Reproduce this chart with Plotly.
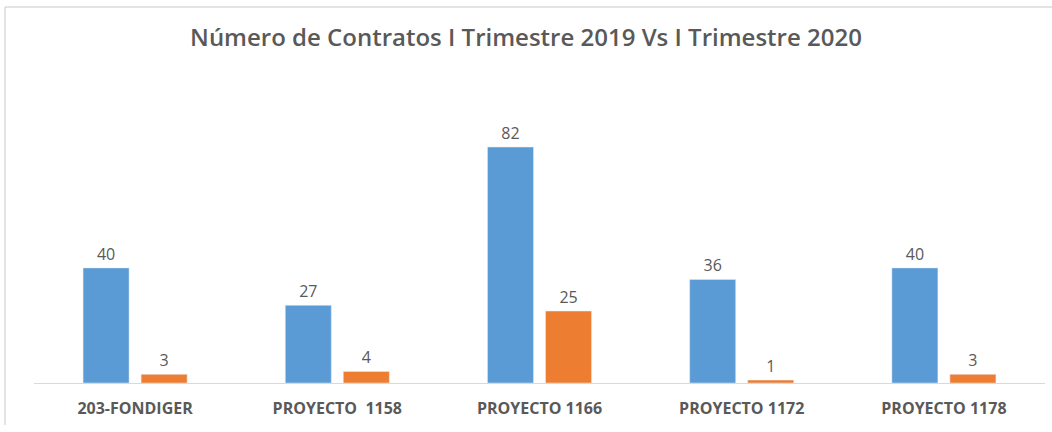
import plotly.graph_objects as go

categories = ["203-FONDIGER", "PROYECTO  1158", "PROYECTO 1166", "PROYECTO 1172", "PROYECTO 1178"]
series_2019 = [40, 27, 82, 36, 40]
series_2020 = [3, 4, 25, 1, 3]
series_names = ["I Trimestre 2019", "I Trimestre 2020"]

label_font = dict(family="Open Sans", size=16, color="#595959")

fig = go.Figure()
fig.add_trace(go.Bar(x=categories, y=series_2019, name=series_names[0],
                     marker_color="#5B9BD5", text=series_2019, textposition="outside",
                     textfont=label_font, cliponaxis=False))
fig.add_trace(go.Bar(x=categories, y=series_2020, name=series_names[1],
                     marker_color="#ED7D31", text=series_2020, textposition="outside",
                     textfont=label_font, cliponaxis=False))

L, R, T, B = 34, 7, 100, 49
W, H = 1052, 432
pw, ph = W - L - R, H - T - B

def px_x(x):
    return (x - L) / pw

def px_y(y):
    return (H - B - y) / ph

fig.update_layout(
    width=W, height=H,
    margin=dict(l=L, r=R, t=T, b=B),
    paper_bgcolor="white", plot_bgcolor="white",
    barmode="group", bargap=0.426, bargroupgap=0.207,
    showlegend=False,
    title=dict(text="Número de Contratos I Trimestre 2019 Vs I Trimestre 2020",
               x=0.5, xanchor="center", y=1 - 38 / H, yanchor="middle",
               font=dict(family="Open Sans", size=24, color="#595959", weight=600)),
    xaxis=dict(showline=True, linecolor="#D9D9D9", linewidth=1, ticks="",
               tickfont=dict(family="Open Sans", size=16, color="#595959", weight="bold"),
               ticklabelstandoff=11, showgrid=False),
    yaxis=dict(range=[0, ph / (236 / 82)], visible=False, showgrid=False),
    shapes=[
        dict(type="line", xref="paper", yref="paper", x0=px_x(5), x1=px_x(W), y0=px_y(7), y1=px_y(7),
             line=dict(color="#C8C8C8", width=1)),
        dict(type="line", xref="paper", yref="paper", x0=px_x(5), x1=px_x(5), y0=px_y(7), y1=px_y(425),
             line=dict(color="#C8C8C8", width=1)),
    ],
)

fig.write_html("out.html", config={"displayModeBar": False},
               post_script="document.body.style.margin='0px';")
